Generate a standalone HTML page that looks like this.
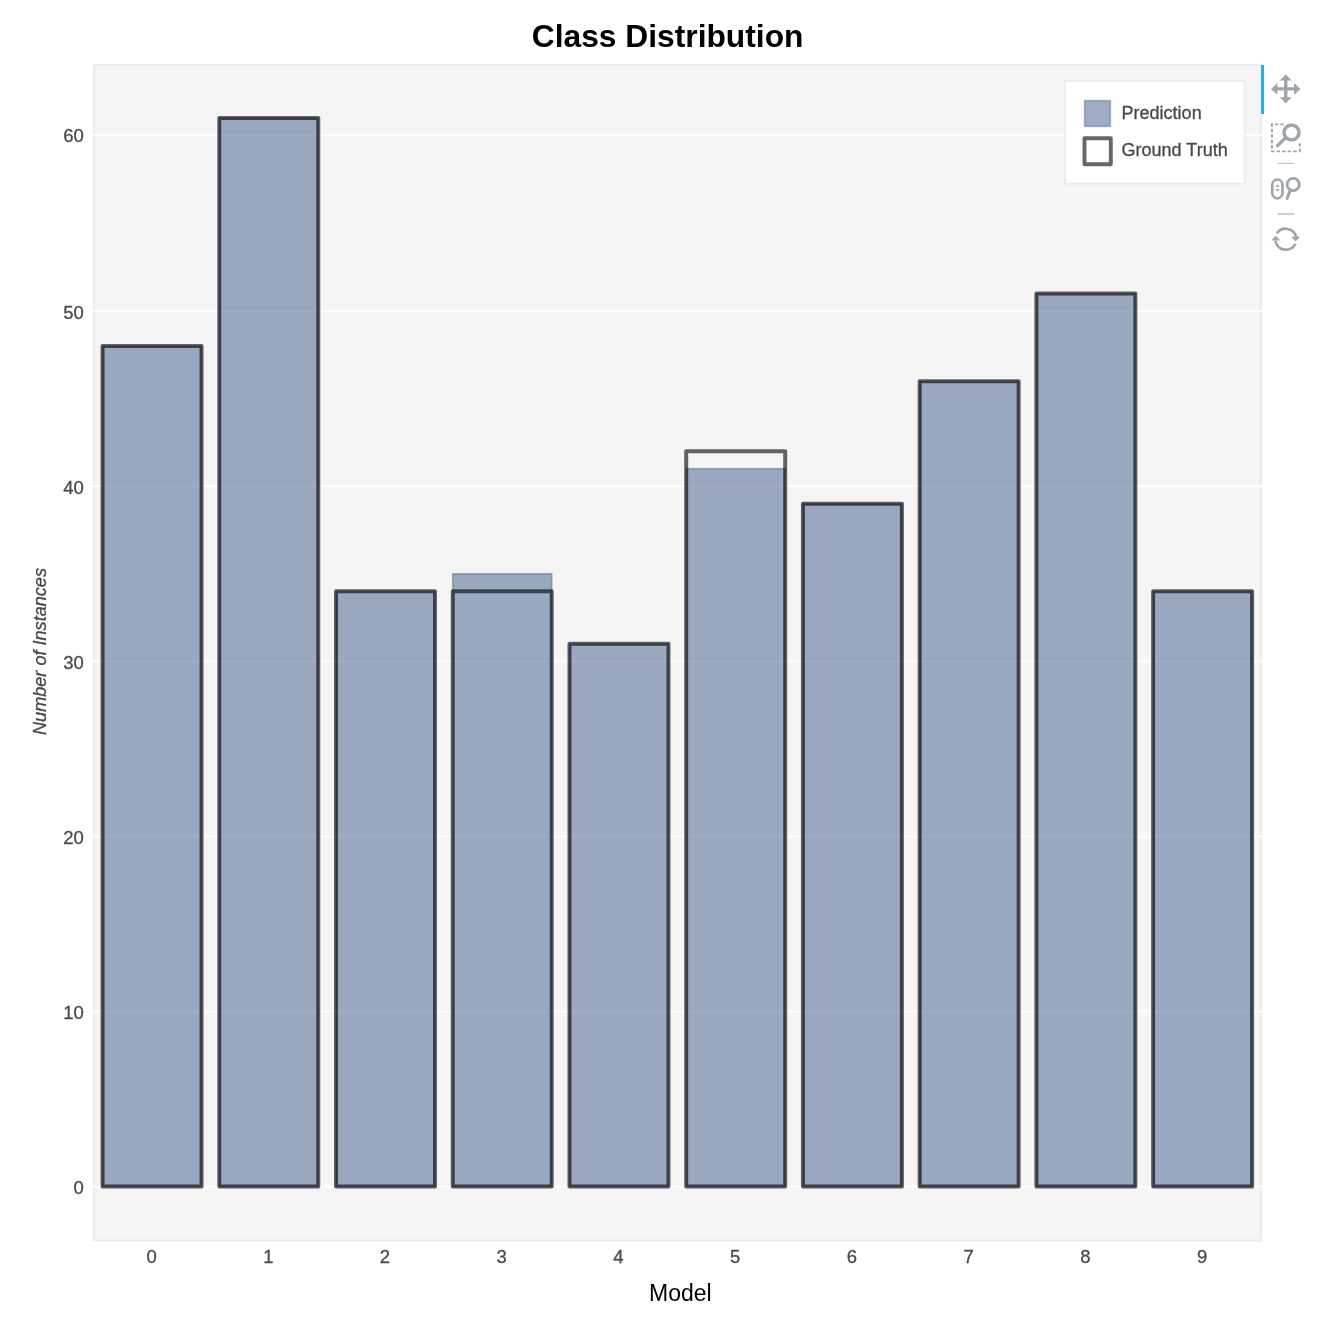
<!DOCTYPE html>
<html><head><meta charset="utf-8"><title>Class Distribution</title>
<style>
html,body{margin:0;padding:0;background:#fff;}
body{width:1342px;height:1326px;overflow:hidden;font-family:"Liberation Sans",Arial,Helvetica,sans-serif;}
svg{display:block;}
text{font-family:"Liberation Sans",Arial,Helvetica,sans-serif;}
.tick{font-size:18.5px;fill:#4a4a4a;stroke:#4a4a4a;stroke-width:0.3px;}
.leg{font-size:18px;fill:#484848;stroke:#484848;stroke-width:0.3px;}
</style></head><body>
<svg width="1342" height="1326" viewBox="0 0 1342 1326">
<rect x="0" y="0" width="1342" height="1326" fill="#fff"/>
<!-- plot frame -->
<rect x="94" y="65" width="1167" height="1175.5" fill="#f5f5f5" stroke="#ebebeb" stroke-width="2"/>

<g stroke="#fff" stroke-width="2">
<line x1="93" x2="1262" y1="1186.6" y2="1186.6"/>
<line x1="93" x2="1262" y1="1011.5" y2="1011.5"/>
<line x1="93" x2="1262" y1="836.4" y2="836.4"/>
<line x1="93" x2="1262" y1="661.3" y2="661.3"/>
<line x1="93" x2="1262" y1="486.2" y2="486.2"/>
<line x1="93" x2="1262" y1="311.1" y2="311.1"/>
<line x1="93" x2="1262" y1="135.0" y2="135.0"/>
</g>
<g fill="#3d5989" fill-opacity="0.5" stroke="#3d5989" stroke-opacity="0.42" stroke-width="1.7">
<rect x="102.55" y="346.12" width="99.00" height="840.48"/>
<rect x="219.28" y="118.00" width="99.00" height="1068.60"/>
<rect x="336.01" y="591.26" width="99.00" height="595.34"/>
<rect x="452.74" y="573.75" width="99.00" height="612.85"/>
<rect x="569.47" y="643.79" width="99.00" height="542.81"/>
<rect x="686.20" y="468.69" width="99.00" height="717.91"/>
<rect x="802.93" y="503.71" width="99.00" height="682.89"/>
<rect x="919.66" y="381.14" width="99.00" height="805.46"/>
<rect x="1036.39" y="293.59" width="99.00" height="893.01"/>
<rect x="1153.12" y="591.26" width="99.00" height="595.34"/>
</g>
<g fill="none" stroke="#000" stroke-opacity="0.6" stroke-width="4" stroke-linejoin="round">
<rect x="102.55" y="346.12" width="99.00" height="840.48"/>
<rect x="219.28" y="118.00" width="99.00" height="1068.60"/>
<rect x="336.01" y="591.26" width="99.00" height="595.34"/>
<rect x="452.74" y="591.26" width="99.00" height="595.34"/>
<rect x="569.47" y="643.79" width="99.00" height="542.81"/>
<rect x="686.20" y="451.18" width="99.00" height="735.42"/>
<rect x="802.93" y="503.71" width="99.00" height="682.89"/>
<rect x="919.66" y="381.14" width="99.00" height="805.46"/>
<rect x="1036.39" y="293.59" width="99.00" height="893.01"/>
<rect x="1153.12" y="591.26" width="99.00" height="595.34"/>
</g>
<g class="tick" text-anchor="end">
<text x="83.9" y="1194.0">0</text>
<text x="83.9" y="1018.9">10</text>
<text x="83.9" y="843.8">20</text>
<text x="83.9" y="668.7">30</text>
<text x="83.9" y="493.6">40</text>
<text x="83.9" y="318.5">50</text>
<text x="83.9" y="142.4">60</text>
</g>
<g class="tick" text-anchor="middle">
<text x="151.6" y="1262.9">0</text>
<text x="268.3" y="1262.9">1</text>
<text x="385.0" y="1262.9">2</text>
<text x="501.7" y="1262.9">3</text>
<text x="618.5" y="1262.9">4</text>
<text x="735.2" y="1262.9">5</text>
<text x="851.9" y="1262.9">6</text>
<text x="968.7" y="1262.9">7</text>
<text x="1085.4" y="1262.9">8</text>
<text x="1202.1" y="1262.9">9</text>
</g>
<text x="667.6" y="46.9" text-anchor="middle" font-size="31.75" font-weight="bold" fill="#000">Class Distribution</text>
<text x="680.3" y="1300.9" text-anchor="middle" font-size="23.0" fill="#000">Model</text>
<text transform="translate(46.1,651.5) rotate(-90)" text-anchor="middle" font-size="18.1" font-style="italic" fill="#484848" stroke="#484848" stroke-width="0.3">Number of Instances</text>
<!-- legend -->
<rect x="1065.2" y="81.0" width="179.4" height="102.6" fill="#fff" fill-opacity="0.95" stroke="#e5e5e5" stroke-opacity="0.7" stroke-width="1.8"/>
<rect x="1084.6" y="100.6" width="25.8" height="25.8" fill="#3d5989" fill-opacity="0.5" stroke="#3d5989" stroke-opacity="0.4" stroke-width="1.6"/>
<rect x="1084.5" y="138.2" width="26.3" height="26" fill="none" stroke="#000" stroke-opacity="0.6" stroke-width="3.9" stroke-linejoin="round"/>
<text class="leg" x="1121.6" y="118.9">Prediction</text>
<text class="leg" x="1121.6" y="156.1">Ground Truth</text>
<!-- toolbar -->
<rect x="1261.1" y="65" width="3" height="49" fill="#26aae1"/>
<path transform="translate(1285.75,88.9)" fill="#9fa5a8" d="M0,-14.3 L6,-8.4 L1.7,-8.4 L1.7,-1.7 L8.3,-1.7 L8.3,-5.9 L14.8,0 L8.3,5.9 L8.3,1.7 L1.7,1.7 L1.7,8.4 L6,8.4 L0,14.3 L-6,8.4 L-1.7,8.4 L-1.7,1.7 L-8.4,1.7 L-8.4,5.9 L-14.8,0 L-8.4,-5.9 L-8.4,-1.7 L-1.7,-1.7 L-1.7,-8.4 L-6,-8.4 Z"/>
<g fill="none" stroke="#9fa5a8">
<line x1="1271.9" x2="1271.9" y1="123.2" y2="126.8" stroke-width="2.0"/><line x1="1271.9" x2="1271.9" y1="128.7" y2="132.2" stroke-width="2.0"/><line x1="1271.9" x2="1271.9" y1="134.1" y2="137.6" stroke-width="2.0"/><line x1="1271.9" x2="1271.9" y1="139.8" y2="143.3" stroke-width="2.0"/><line x1="1271.9" x2="1271.9" y1="145.2" y2="148.7" stroke-width="2.0"/>
<line y1="151.4" y2="151.4" x1="1271.0" x2="1274.5" stroke-width="1.7"/><line y1="151.4" y2="151.4" x1="1276.6" x2="1280.0" stroke-width="1.7"/><line y1="151.4" y2="151.4" x1="1282.1" x2="1285.6" stroke-width="1.7"/><line y1="151.4" y2="151.4" x1="1287.5" x2="1291.1" stroke-width="1.7"/><line y1="151.4" y2="151.4" x1="1293.2" x2="1296.8" stroke-width="1.7"/>
<line y1="124.3" y2="124.3" x1="1274.8" x2="1278.3" stroke-width="1.6"/><line y1="124.3" y2="124.3" x1="1280.2" x2="1283.7" stroke-width="1.6"/>
<line x1="1299.8" x2="1299.8" y1="143.4" y2="146.6" stroke-width="2.0"/><line x1="1299.8" x2="1299.8" y1="148.7" y2="152.2" stroke-width="2.0"/>
<circle cx="1291.5" cy="132.5" r="7.5" stroke-width="3.5"/>
<line x1="1285.6" y1="137.6" x2="1277.6" y2="145.7" stroke-width="3.3" stroke-linecap="round"/>
</g>
<line x1="1277.6" x2="1294.1" y1="163.4" y2="163.4" stroke="#c9c9c9" stroke-width="1.2"/>
<g fill="none" stroke="#9fa5a8">
<rect x="1272.2" y="179.5" width="10.3" height="18.8" rx="5.15" ry="5.6" stroke-width="2.7"/>
<circle cx="1293.2" cy="184.5" r="6.1" stroke-width="2.8"/>
<line x1="1290.2" y1="190.2" x2="1287.2" y2="198.6" stroke-width="3" stroke-linecap="round"/>
</g>
<path d="M1275.1,186.8 L1277.4,184.4 L1279.7,186.8 Z M1275.1,189.1 L1277.4,191.6 L1279.7,189.1 Z" fill="#9fa5a8"/>
<line x1="1277.6" x2="1294.1" y1="213.9" y2="213.9" stroke="#c9c9c9" stroke-width="1.8"/>
<g fill="none" stroke="#9fa5a8" stroke-width="2.7">
<path d="M1276.9,233.4 A10.65,10.65 0 0 1 1296.2,237.6"/>
<path d="M1295.4,243.9 A10.65,10.65 0 0 1 1275.4,240.9"/>
</g>
<path d="M1291.3,236.8 L1300.2,236.7 L1295.6,241.4 Z M1275.8,235.7 L1271.2,240.6 L1280.2,240.5 Z" fill="#9fa5a8"/>
</svg>
</body></html>
